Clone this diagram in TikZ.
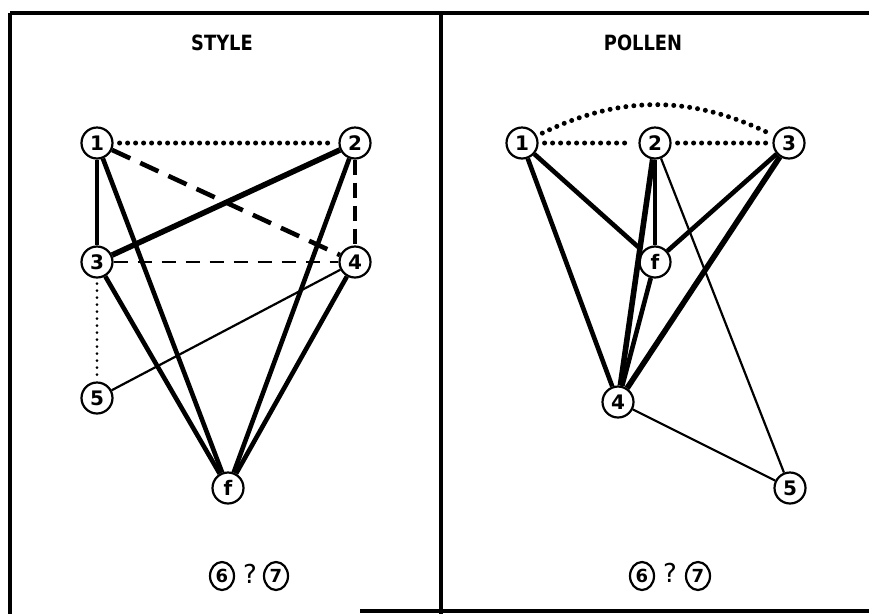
\documentclass[tikz,border=0pt]{standalone}
\usepackage{fontspec}
\setmainfont{DejaVu Sans}
\usetikzlibrary{shapes.geometric}
\begin{document}
\begin{tikzpicture}[x=1pt,y=-1pt,
  vtx/.style={circle,draw,line width=2.2pt,minimum size=31pt,inner sep=0pt,font=\fontsize{20}{20}\selectfont\bfseries},
  qvtx/.style={ellipse,draw,line width=2.2pt,minimum width=24pt,minimum height=28pt,inner sep=0pt,font=\fontsize{18}{18}\selectfont\bfseries},
  qmark/.style={font=\fontsize{26}{26}\selectfont},
  title/.style={font=\fontsize{21}{21}\selectfont\bfseries},
  heavy/.style={line width=4.6pt},
  heavier/.style={line width=5.6pt},
  light/.style={line width=2.2pt},
  dotline/.style={line width=5pt,line cap=round,dash pattern=on 0pt off 8pt,shorten <=6pt,shorten >=6pt},
  thindot/.style={line width=2.8pt,line cap=round,dash pattern=on 0pt off 7pt,shorten <=5pt},
  bigdash/.style={line width=4.6pt,dash pattern=on 20pt off 11pt},
  middash/.style={line width=4pt,dash pattern=on 15pt off 8pt},
  smalldash/.style={line width=2.8pt,dash pattern=on 14pt off 10pt}]
\useasboundingbox (0,0) rectangle (869,614);
% frame
\draw[line width=3.2pt] (10,13) -- (869,13);
\draw[line width=3.2pt] (10,13) -- (10,614);
\draw[line width=3.2pt] (441,13) -- (441,614);
\draw[line width=3.2pt] (360,611) -- (869,611);

% left panel
\node[title] (tS) at (222,43) {\scalebox{0.85}[1]{STYLE}};
\node[vtx] (a1) at (97,143) {1};
\node[vtx] (a2) at (355,143) {2};
\node[vtx] (a3) at (97,262) {3};
\node[vtx] (a4) at (355,262) {4};
\node[vtx] (a5) at (97,398) {5};
\node[vtx] (af) at (228,488) {f};

\draw[dotline] (a1) -- (a2);
\draw[heavy] (a1) -- (a3);
\draw[bigdash] (a1) -- (a4);
\draw[heavy] (a1) -- (af);
\draw[heavier] (a2) -- (a3);
\draw[middash] (a2) -- (a4);
\draw[heavy] (a2) -- (af);
\draw[smalldash] (a3) -- (a4);
\draw[thindot] (a3) -- (a5);
\draw[heavy] (a3) -- (af);
\draw[heavy] (a4) -- (af);
\draw[light] (a4) -- (a5);

\node[qvtx] (l6) at (222,576) {6};
\node[qmark] (lq) at (250,574) {?};
\node[qvtx] (l7) at (276,576) {7};

% right panel
\node[title] (tP) at (643,43) {\scalebox{0.85}[1]{POLLEN}};
\node[vtx] (b1) at (522,143) {1};
\node[vtx] (b2) at (655,143) {2};
\node[vtx] (b3) at (789,143) {3};
\node[vtx] (bf) at (655,262) {f};
\node[vtx] (b4) at (618,402) {4};
\node[vtx] (b5) at (790,488) {5};

\draw[dotline] (b1) -- (b2);
\draw[dotline] (b2) -- (b3);
\draw[dotline] (b1) to[bend left=26] (b3);
\draw[heavy] (b1) -- (b4);
\draw[heavy,shorten >=6pt] (b1) -- (bf);
\draw[heavier] (b2) -- (b4);
\draw[heavy] (b2) -- (bf);
\draw[light] (b2) -- (b5);
\draw[heavy] (b3) -- (bf);
\draw[heavier] (b3) -- (b4);
\draw[heavy] (bf) -- (b4);
\draw[light] (b4) -- (b5);

\node[qvtx] (r6) at (642,576) {6};
\node[qmark] (rq) at (670,573) {?};
\node[qvtx] (r7) at (698,576) {7};
\end{tikzpicture}
\end{document}
